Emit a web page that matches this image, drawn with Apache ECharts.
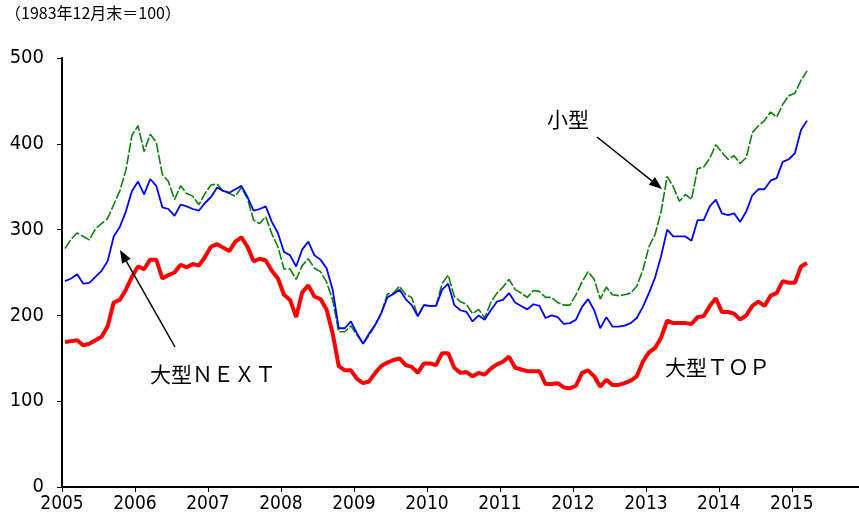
<!DOCTYPE html>
<html>
<head>
<meta charset="utf-8">
<script src="https://cdn.jsdelivr.net/npm/echarts@6/dist/echarts.min.js"></script>
<style>
  html, body { margin: 0; padding: 0; background: #fff; }
  #chart { width: 859px; height: 526px; }
</style>
</head>
<body>
<div id="chart"></div>
<script>
// 月次データ（2005年1月〜2015年3月）
const startYear = 2005
const yearTicks = [2005, 2006, 2007, 2008, 2009, 2010, 2011, 2012, 2013, 2014, 2015]

// 小型
const small = [278, 289, 296, 292, 288, 301, 307, 313, 329, 345, 369, 410,
  421, 391, 411, 402, 364, 356, 335, 351, 342, 339, 329, 342,
  352, 353, 345, 342, 339, 349, 336, 311, 307, 315, 295, 280,
  254, 254, 242, 258, 266, 255, 251, 239, 218, 181, 181, 188,
  177, 167, 177, 189, 202, 225, 226, 234, 224, 221, 199, 212,
  211, 211, 237, 247, 222, 216, 213, 202, 207, 197, 215, 226,
  233, 242, 230, 226, 221, 229, 228, 221, 221, 215, 212, 212,
  224, 239, 251, 242, 219, 233, 224, 223, 224, 226, 234, 253,
  280, 294, 321, 362, 350, 333, 341, 335, 371, 373, 383, 399,
  390, 382, 386, 377, 384, 413, 421, 427, 437, 431, 446, 456,
  459, 474, 485]

// 大型NEXT
const largeNext = [240, 243, 248, 237, 238, 245, 252, 263, 292, 303, 321, 345,
  356, 341, 359, 351, 326, 324, 316, 329, 327, 324, 322, 331,
  338, 349, 345, 343, 347, 351, 338, 322, 324, 327, 309, 296,
  274, 270, 257, 277, 286, 270, 265, 255, 230, 185, 185, 193,
  179, 167, 179, 189, 203, 221, 225, 230, 219, 212, 199, 212,
  211, 211, 230, 237, 212, 206, 204, 193, 200, 195, 206, 216,
  218, 226, 215, 211, 207, 213, 211, 197, 200, 198, 190, 191,
  195, 210, 219, 206, 185, 198, 187, 187, 188, 191, 197, 210,
  226, 244, 269, 300, 292, 292, 292, 287, 311, 311, 327, 335,
  319, 317, 319, 309, 321, 340, 347, 347, 357, 360, 379, 382,
  389, 416, 427]

// 大型TOP
const largeTop = [169, 170, 171, 165, 167, 171, 175, 187, 215, 218, 230, 245,
  257, 254, 265, 265, 243, 247, 250, 259, 256, 260, 258, 268,
  280, 283, 279, 275, 286, 291, 280, 263, 266, 264, 252, 243,
  224, 218, 198, 227, 235, 222, 219, 207, 179, 141, 136, 136,
  126, 121, 123, 133, 141, 145, 148, 150, 142, 140, 133, 144,
  144, 142, 156, 156, 139, 133, 134, 129, 133, 131, 138, 143,
  146, 152, 139, 137, 135, 135, 135, 120, 120, 121, 116, 115,
  118, 133, 136, 129, 117, 125, 119, 119, 121, 124, 129, 146,
  157, 162, 174, 194, 191, 191, 191, 190, 198, 199, 211, 220,
  204, 204, 202, 195, 200, 211, 216, 211, 223, 226, 240, 238,
  238, 257, 261]

const toPoints = arr => arr.map((v, i) => [startYear + (i + 0.5) / 12, v])

const numFont = '"Liberation Sans Narrow", "DejaVu Sans Condensed", "Liberation Sans", sans-serif'
const jpFont = '"Noto Sans CJK JP", sans-serif'

// 矢印（線＋三角）
const arrow = (x1, y1, x2, y2) => {
  const ang = Math.atan2(y2 - y1, x2 - x1)
  const len = 13, half = 5
  const bx = x2 - len * Math.cos(ang), by = y2 - len * Math.sin(ang)
  const px = -Math.sin(ang) * half, py = Math.cos(ang) * half
  return [
    { type: 'line', shape: { x1: x1, y1: y1, x2: bx, y2: by }, style: { stroke: '#000', lineWidth: 1.5 }, z: 100 },
    { type: 'polygon', shape: { points: [[x2, y2], [bx + px, by + py], [bx - px, by - py]] }, style: { fill: '#000' }, z: 100 }
  ]
}

const chart = echarts.init(document.getElementById('chart'))
chart.setOption({
  animation: false,
  backgroundColor: '#fff',
  grid: { left: 62, right: 0, top: 58, bottom: 39 },
  xAxis: {
    type: 'value',
    min: 2005,
    max: 2015.92,
    interval: 1,
    splitLine: { show: false },
    axisLine: { lineStyle: { color: '#000', width: 2 } },
    axisTick: { length: 5, lineStyle: { color: '#000', width: 1 } },
    axisLabel: {
      color: '#000', fontSize: 19, fontFamily: numFont, margin: 8,
      showMaxLabel: false,
      formatter: v => (yearTicks.indexOf(v) >= 0 ? String(v) : '')
    }
  },
  yAxis: {
    type: 'value',
    min: 0,
    max: 500,
    interval: 100,
    splitLine: { show: false },
    axisLine: { show: true, lineStyle: { color: '#000', width: 2 } },
    axisTick: { show: true, length: 5, lineStyle: { color: '#000', width: 1 } },
    axisLabel: { color: '#000', fontSize: 20, fontFamily: numFont, margin: 18 }
  },
  series: [
    {
      name: '小型', type: 'line', data: toPoints(small), showSymbol: false,
      lineStyle: { color: '#0a820a', width: 1.6, type: [10, 2] }, z: 2
    },
    {
      name: '大型NEXT', type: 'line', data: toPoints(largeNext), showSymbol: false,
      lineStyle: { color: '#0000ff', width: 1.8 }, z: 3
    },
    {
      name: '大型TOP', type: 'line', data: toPoints(largeTop), showSymbol: false,
      lineStyle: { color: '#ff0000', width: 4 }, z: 4
    }
  ],
  graphic: [
    { type: 'text', left: 5, top: 5, style: { text: '（1983年12月末＝100）', fontSize: 16, fontFamily: jpFont, fill: '#000' } },
    { type: 'text', left: 547, top: 109, style: { text: '小型', fontSize: 21, fontFamily: jpFont, fill: '#000' } },
    { type: 'text', left: 150, top: 364, style: { text: '大型ＮＥＸＴ', fontSize: 21, fontFamily: jpFont, fill: '#000' } },
    { type: 'text', left: 665, top: 357, style: { text: '大型ＴＯＰ', fontSize: 21, fontFamily: jpFont, fill: '#000' } },
    ...arrow(175, 347, 120, 250),
    ...arrow(597, 137, 662, 189)
  ]
})
</script>
</body>
</html>
